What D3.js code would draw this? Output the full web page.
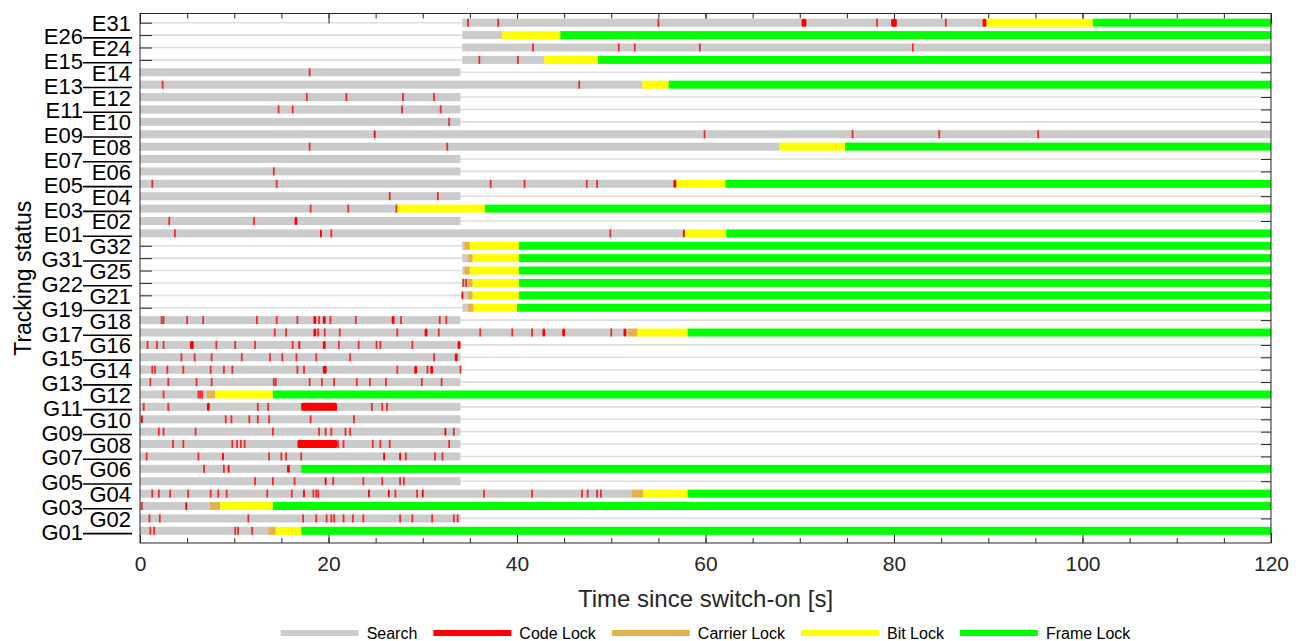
<!DOCTYPE html>
<html>
<head>
<meta charset="utf-8">
<script src="https://cdnjs.cloudflare.com/ajax/libs/d3/7.8.5/d3.min.js"></script>
<style>
  body { margin: 0; background: #fff; }
  svg { font-family: 'Liberation Sans', Arial, sans-serif; }
  .frame { fill: none; stroke: #262626; stroke-width: 1; }
  .tick line { stroke: #262626; }
</style>
</head>
<body>
<div id="graph"></div>
<script>
// Tracking state of each satellite, top row first. Times in seconds.

var sats = ['E31', 'E26', 'E24', 'E15', 'E14', 'E13', 'E12', 'E11', 'E10', 'E09', 'E08', 'E07', 'E06', 'E05',
  'E04', 'E03', 'E02', 'E01', 'G32', 'G31', 'G25', 'G22', 'G21', 'G19', 'G18', 'G17', 'G16', 'G15', 'G14',
  'G13', 'G12', 'G11', 'G10', 'G09', 'G08', 'G07', 'G06', 'G05', 'G04', 'G03', 'G02', 'G01'];

// grey "Search" span
var search = [[34.2, 89.7], [34.2, 38.4], [34.2, 120], [34.2, 42.9], [0, 34], [0, 53.3], [0, 34], [0, 34],
  [0, 34], [0, 120], [0, 67.8], [0, 34], [0, 34], [0, 56.8], [0, 34], [0, 27.3], [0, 34], [0, 57.8],
  [34.2, 34.4], [34.2, 34.8], [34.2, 34.4], [34.2, 34.8], [34.2, 34.8], [34.2, 34.8], [0, 34], [0, 51.8],
  [0, 34], [0, 34], [0, 34], [0, 34], [0, 7.1], [0, 34], [0, 34], [0, 34], [0, 34], [0, 34], [0, 17.1],
  [0, 34], [0, 52.2], [0, 7.4], [0, 34], [0, 13.6]];

// short code lock events (a number is a blip, a pair is a span)
var codeLock = [
  [34.8, 38.0, 55.0, [70.2, 70.7], 78.2, [79.7, 80.3], 85.5, [89.4, 89.8]],
  [],
  [41.7, 50.8, 52.5, 59.4, 82.0],
  [36.0, 40.1],
  [18.0],
  [2.4, 46.6],
  [17.7, 21.9, 27.9, 31.2],
  [14.7, 16.2, 27.8, 31.9],
  [32.8],
  [[24.8, 25.0], 59.9, 75.6, 84.8, 95.3],
  [18.0, 32.6],
  [],
  [14.2],
  [1.3, 14.5, 37.2, 40.8, 47.4, 48.5, [56.6, 56.9]],
  [26.5, 31.6],
  [18.1, 22.1, 27.2],
  [3.1, 12.1, [16.4, 16.7]],
  [3.7, [19.1, 19.3], 20.3, 49.9, [57.6, 57.8]],
  [],
  [],
  [],
  [34.3, 34.6],
  [[34.1, 34.3]],
  [],
  [2.3, 2.5, 5.0, 6.7, 12.4, 14.5, 16.7, [18.4, 18.7], 19.0, [19.4, 19.7], 20.2, 22.9, [26.7, 27.0], 27.7, 31.8, 32.5],
  [14.3, 15.5, [18.4, 18.7], 18.9, 19.6, 21.2, 27.3, [30.2, 30.5], 31.7, 36.1, 39.5, 41.6, [42.7, 43.0], [44.8, 45.1], 50.0, [51.3, 51.6]],
  [0.8, 1.8, 2.5, [5.3, 5.7], 8.1, 10.1, 12.2, 16.2, [16.8, 17.0], [19.4, 19.7], 21.1, 23.2, 25.1, 25.5, 28.9, [33.7, 34.0]],
  [4.4, 5.8, 7.6, 10.8, 13.8, 15.1, 16.6, 18.7, 22.3, 31.2, [33.4, 33.7]],
  [1.3, 1.6, 2.9, 4.6, 7.5, 8.9, 9.8, 16.7, 17.4, [19.4, 19.8], 27.3, [29.1, 29.4], 30.5, [30.8, 31.1], 34.0],
  [1.1, 3.0, 6.0, 7.6, 14.2, 14.4, 18.0, 19.3, 20.6, 23.0, 24.4, 26.1, 29.9, 32.0],
  [2.5, 6.2, 6.4, 6.6],
  [0.4, 3.0, [7.1, 7.4], 12.5, 13.6, [17.1, 20.9], 24.6, 25.7, 26.2],
  [[0.1, 0.3], 9.1, 9.7, 11.6, 12.5, 13.7, 18.1, 22.7],
  [2.0, 2.5, 5.9, 14.1, 19.0, 19.7, 20.3, 21.8, 22.3, [32.3, 32.5], 33.3],
  [3.5, 4.6, 9.8, 10.3, 10.7, 11.1, [16.7, 20.9], 21.0, 21.6, 24.7, 25.5, 26.5, 32.8],
  [0.7, 6.2, [8.7, 8.9], 13.7, 15.0, 15.5, 17.1, [25.8, 26.0], [27.5, 27.7], 28.2, 31.3, 32.1],
  [6.8, 8.9, [9.3, 9.5], [15.6, 15.9]],
  [12.2, 14.1, 16.4, [19.6, 19.8], 20.5, 23.7, 25.7, 27.6, 28.0],
  [1.3, 2.0, 3.2, 5.1, 7.5, 8.3, 9.2, 13.5, 16.1, [17.3, 17.5], 18.4, 18.7, 18.9, [24.2, 24.4], [26.3, 26.5], 27.1,
    29.4, [29.9, 30.1], 36.5, 41.6, 46.9, 47.5, 48.5, 48.9],
  [0.2, [4.8, 5.0]],
  [1.0, 2.1, 11.5, 17.3, 18.7, 19.8, 20.3, 20.6, 21.6, 22.6, 23.7, 27.6, 28.9, 31.0, 33.3, 33.7],
  [1.1, 1.5, 10.1, 10.4, 11.9]
];

// carrier lock / bit lock spans, frame lock start (null = never reached)
var carrier = [null, null, null, null, null, null, null, null, null, null, null, null, null, null, null, null, null,
  null, [34.4, 35.0], [34.8, 35.3], [34.4, 35.0], [34.8, 35.3], [34.8, 35.3], [34.8, 35.4], null, [51.8, 52.8],
  null, null, null, null, [7.1, 8.0], null, null, null, null, null, null, null, [52.2, 53.4], [7.4, 8.5], null,
  [13.6, 14.4]];

var bitLock = [[89.7, 101.1], [38.4, 44.6], null, [42.9, 48.6], null, [53.3, 56.1], null, null, null, null,
  [67.8, 74.8], null, null, [56.9, 62.1], null, [27.3, 36.6], null, [57.8, 62.2], [35.0, 40.2], [35.3, 40.2],
  [35.0, 40.2], [35.3, 40.2], [35.3, 40.2], [35.4, 40.0], null, [52.8, 58.1], null, null, null, null,
  [8.0, 14.1], null, null, null, null, null, null, null, [53.4, 58.1], [8.5, 14.1], null, [14.4, 17.1]];

var frameLock = [101.1, 44.6, null, 48.6, null, 56.1, null, null, null, null, 74.8, null, null, 62.1, null, 36.6,
  null, 62.2, 40.2, 40.2, 40.2, 40.2, 40.2, 40.0, null, 58.1, null, null, null, null, 14.1, null, null, null,
  null, null, 17.1, null, 58.1, 14.1, null, 17.1];

var legendNames = ['Search', 'Code Lock', 'Carrier Lock', 'Bit Lock', 'Frame Lock'];
var legendColors = ['#cbcbcb', '#ff0000', '#e6b04c', '#ffff00', '#00ff00'];
var xMajor = [0, 20, 40, 60, 80, 100, 120];
var xMinor = d3.range(0, 121, 5);

var w = 1302;
var h = 641;
var plotLeft = 140, plotRight = 1271, plotTop = 13.5, plotBottom = 543;
var barH = 8;

var svg = d3
  .select('#graph')
  .append('svg')
  .attr('width', w)
  .attr('height', h);

var x = d3.scaleLinear().domain([0, 120]).range([plotLeft, plotRight]);
var y = d3.scalePoint().domain(sats).range([22.7, 530.8]);

// thin row baselines
svg
  .append('g')
  .selectAll('line')
  .data(sats)
  .enter()
  .append('line')
  .attr('x1', plotLeft)
  .attr('x2', plotRight)
  .attr('y1', function(d) { return y(d); })
  .attr('y2', function(d) { return y(d); })
  .attr('stroke', '#dedede')
  .attr('stroke-width', 1.6);

// ticks, drawn before the bars so bars hide them
function noLabel() { return ''; }

svg.append('g')
  .attr('transform', 'translate(0,' + plotBottom + ')')
  .call(d3.axisBottom(x).tickValues(xMinor).tickSize(-5).tickFormat(noLabel));
svg.append('g')
  .attr('transform', 'translate(0,' + plotBottom + ')')
  .call(d3.axisBottom(x).tickValues(xMajor).tickSize(-10).tickPadding(13).tickFormat(d3.format('d')))
  .selectAll('text')
  .attr('font-size', 21)
  .attr('font-family', "'Liberation Sans', Arial, sans-serif")
  .attr('fill', '#262626');
svg.append('g')
  .attr('transform', 'translate(0,' + plotTop + ')')
  .call(d3.axisTop(x).tickValues(xMinor).tickSize(-5).tickFormat(noLabel));
svg.append('g')
  .attr('transform', 'translate(0,' + plotTop + ')')
  .call(d3.axisTop(x).tickValues(xMajor).tickSize(-10).tickFormat(noLabel));
svg.append('g')
  .attr('transform', 'translate(' + plotLeft + ',0)')
  .call(d3.axisLeft(y).tickSize(-12).tickFormat(noLabel));
svg.append('g')
  .attr('transform', 'translate(' + plotRight + ',0)')
  .call(d3.axisRight(y).tickSize(-10).tickFormat(noLabel));
svg.selectAll('.domain').remove();

// status bars
function spanRect(g, span, i, color) {
  g.append('rect')
    .attr('x', x(span[0]))
    .attr('width', Math.max(x(span[1]) - x(span[0]), 0))
    .attr('y', y(sats[i]) - barH / 2)
    .attr('height', barH)
    .attr('fill', color);
}

var bars = svg.append('g');
sats.forEach(function(s, i) {
  spanRect(bars, search[i], i, legendColors[0]);
  if (carrier[i]) spanRect(bars, carrier[i], i, legendColors[2]);
  if (bitLock[i]) spanRect(bars, bitLock[i], i, legendColors[3]);
  if (frameLock[i] !== null) spanRect(bars, [frameLock[i], 120], i, legendColors[4]);
});

var marks = [];
codeLock.forEach(function(list, i) {
  list.forEach(function(c) {
    marks.push({ row: sats[i], span: Array.isArray(c) ? c : [c, c], thin: !Array.isArray(c) });
  });
});

// blips are thin and come out a little washed out in the original
svg
  .append('g')
  .selectAll('rect')
  .data(marks)
  .enter()
  .append('rect')
  .attr('x', function(d) {
    var w0 = x(d.span[1]) - x(d.span[0]);
    return w0 < 1.8 ? (x(d.span[0]) + x(d.span[1])) / 2 - 0.9 : x(d.span[0]);
  })
  .attr('width', function(d) { return Math.max(x(d.span[1]) - x(d.span[0]), 1.8); })
  .attr('y', function(d) { return y(d.row) - barH / 2; })
  .attr('height', barH)
  .attr('rx', function(d) { return d.thin ? 0 : 1.5; })
  .attr('fill', legendColors[1])
  .attr('fill-opacity', function(d) { return d.thin ? 0.8 : 1; });

// plot frame
svg
  .append('rect')
  .attr('class', 'frame')
  .attr('x', plotLeft)
  .attr('y', plotTop)
  .attr('width', plotRight - plotLeft)
  .attr('height', plotBottom - plotTop);

// row labels: alternating two columns, the outer one leads in with a rule
var labels = svg.append('g').attr('font-size', 22).attr('fill', '#000');
sats.forEach(function(s, i) {
  var yy = y(s);
  if (i % 2 === 0) {
    labels.append('text').attr('x', 131).attr('y', yy + 8.5).attr('text-anchor', 'end').text(s);
  } else {
    labels.append('text').attr('x', 83).attr('y', yy + 9).attr('text-anchor', 'end').text(s);
    labels.append('line')
      .attr('x1', 83).attr('x2', 132)
      .attr('y1', yy + 2.8).attr('y2', yy + 2.8)
      .attr('stroke', '#000').attr('stroke-width', 1.6);
  }
});

// axis titles
svg
  .append('text')
  .attr('transform', 'translate(31,' + (plotTop + plotBottom) / 2 + ') rotate(-90)')
  .attr('text-anchor', 'middle')
  .attr('font-size', 23)
  .text('Tracking status');

svg
  .append('text')
  .attr('x', (plotLeft + plotRight) / 2)
  .attr('y', 607)
  .attr('text-anchor', 'middle')
  .attr('font-size', 24)
  .attr('fill', '#262626')
  .text('Time since switch-on [s]');

// legend
var legend = svg.append('g');
var lx = 0;
legendNames.forEach(function(n, i) {
  legend.append('line')
    .attr('x1', lx).attr('x2', lx + 78)
    .attr('y1', 633).attr('y2', 633)
    .attr('stroke', legendColors[i]).attr('stroke-width', 6);
  var t = legend.append('text')
    .attr('x', lx + 86)
    .attr('y', 639)
    .attr('font-size', 16)
    .text(n);
  lx += 86 + t.node().getComputedTextLength() + 16;
});
legend.attr('transform', 'translate(' + ((plotLeft + plotRight) / 2 - (lx - 16) / 2) + ',0)');
</script>
</body>
</html>
